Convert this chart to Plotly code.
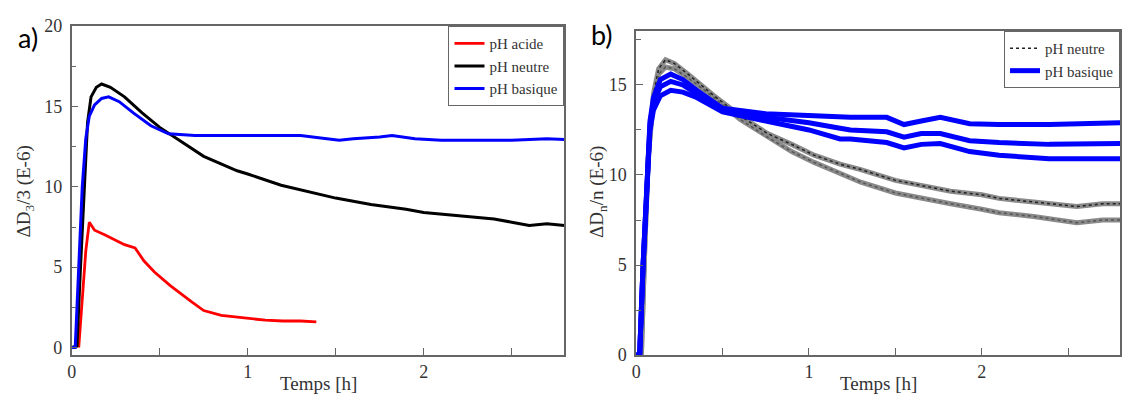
import plotly.graph_objects as go

# ---------------- Panel a) data ----------------
t_acide_a = [0.04, 0.06, 0.08, 0.10, 0.13, 0.19, 0.25, 0.30, 0.36, 0.41, 0.47, 0.56, 0.68, 0.75, 0.85, 1.00, 1.10, 1.20, 1.30, 1.39]
acide_a = [0.0, 3.0, 6.0, 7.8, 7.3, 7.0, 6.7, 6.4, 6.2, 5.4, 4.7, 3.85, 2.85, 2.3, 2.0, 1.8, 1.7, 1.65, 1.65, 1.6]

t_neutre_a = [0.0, 0.03, 0.05, 0.07, 0.09, 0.11, 0.14, 0.17, 0.22, 0.30, 0.40, 0.50, 0.64, 0.75, 0.94, 1.00, 1.19, 1.35, 1.50, 1.70, 1.90, 2.00, 2.20, 2.40, 2.50, 2.60, 2.70, 2.80]
neutre_a = [0.0, 0.1, 5.0, 10.0, 14.0, 15.6, 16.2, 16.4, 16.2, 15.6, 14.6, 13.7, 12.7, 11.9, 11.0, 10.8, 10.1, 9.7, 9.3, 8.9, 8.6, 8.4, 8.2, 8.0, 7.8, 7.6, 7.7, 7.6]

t_basique_a = [0.0, 0.02, 0.04, 0.06, 0.08, 0.10, 0.13, 0.17, 0.21, 0.27, 0.35, 0.45, 0.55, 0.70, 0.90, 1.10, 1.30, 1.45, 1.52, 1.60, 1.75, 1.82, 1.95, 2.10, 2.30, 2.50, 2.70, 2.80]
basique_a = [0.0, 0.0, 5.0, 10.0, 13.0, 14.4, 15.1, 15.5, 15.6, 15.3, 14.6, 13.8, 13.3, 13.2, 13.2, 13.2, 13.2, 13.0, 12.9, 13.0, 13.1, 13.2, 13.0, 12.9, 12.9, 12.9, 13.0, 12.95]

# ---------------- Panel b) data ----------------
t_neutre_b = [0.0, 0.03, 0.05, 0.07, 0.10, 0.13, 0.17, 0.22, 0.30, 0.45, 0.60, 0.76, 0.90, 1.03, 1.18, 1.30, 1.50, 1.70, 1.82, 2.00, 2.10, 2.30, 2.55, 2.70, 2.80]
neutre_b_1 = [0.0, 0.0, 6.0, 11.0, 14.5, 15.9, 16.4, 16.2, 15.6, 14.4, 13.3, 12.3, 11.7, 11.1, 10.6, 10.3, 9.7, 9.3, 9.1, 8.9, 8.7, 8.5, 8.25, 8.4, 8.4]
neutre_b_2 = [0.0, 0.0, 6.0, 11.0, 14.2, 15.6, 16.0, 15.9, 15.4, 14.3, 13.1, 12.1, 11.3, 10.7, 10.1, 9.6, 9.0, 8.6, 8.4, 8.1, 7.9, 7.7, 7.35, 7.5, 7.5]

t_basique_b = [0.0, 0.02, 0.04, 0.065, 0.08, 0.10, 0.14, 0.20, 0.27, 0.35, 0.50, 0.75, 1.00, 1.18, 1.24, 1.45, 1.55, 1.65, 1.76, 1.93, 2.10, 2.39, 2.60, 2.80]
basique_b_1 = [0.0, 0.0, 5.0, 10.0, 13.0, 14.3, 15.3, 15.6, 15.3, 14.7, 13.7, 13.4, 13.3, 13.2, 13.2, 13.2, 12.8, 13.0, 13.2, 12.85, 12.8, 12.8, 12.85, 12.9]
basique_b_2 = [0.0, 0.0, 5.0, 10.0, 12.8, 14.0, 14.9, 15.2, 15.0, 14.5, 13.6, 13.2, 12.9, 12.6, 12.5, 12.4, 12.1, 12.3, 12.3, 11.9, 11.8, 11.7, 11.7, 11.75]
basique_b_3 = [0.0, 0.0, 5.0, 10.0, 12.5, 13.6, 14.4, 14.7, 14.6, 14.3, 13.5, 13.0, 12.5, 12.0, 12.0, 11.8, 11.5, 11.7, 11.75, 11.3, 11.1, 10.9, 10.9, 10.9]

x_title = "Temps [h]"
y_title_a = "ΔD<sub>3</sub>/3 (E-6)"
y_title_b = "ΔD<sub>n</sub>/n (E-6)"

SERIF = "Liberation Serif"
SANS = "Lato"
AXC = "#666666"
TXT = "#333333"

fig = go.Figure()

# Panel a
fig.add_trace(go.Scatter(x=t_acide_a, y=acide_a, mode="lines", name="pH acide",
                         line=dict(color="#ff0000", width=2.8), xaxis="x", yaxis="y", legend="legend"))
fig.add_trace(go.Scatter(x=t_neutre_a, y=neutre_a, mode="lines", name="pH neutre",
                         line=dict(color="#000000", width=3), xaxis="x", yaxis="y", legend="legend"))
fig.add_trace(go.Scatter(x=t_basique_a, y=basique_a, mode="lines", name="pH basique",
                         line=dict(color="#0000ff", width=3), xaxis="x", yaxis="y", legend="legend"))

# Panel b: neutral halos + dotted lines
for yv in [neutre_b_1, neutre_b_2]:
    fig.add_trace(go.Scatter(x=t_neutre_b, y=yv, mode="lines", showlegend=False,
                             line=dict(color="#8a8a8a", width=5), xaxis="x2", yaxis="y2",
                             legend="legend2", hoverinfo="skip"))
for i, yv in enumerate([neutre_b_1, neutre_b_2]):
    fig.add_trace(go.Scatter(x=t_neutre_b, y=yv, mode="lines", name="pH neutre",
                             showlegend=(i == 0), legendgroup="neutre",
                             line=dict(color="#222222" if i == 0 else "#555555", width=1.5, dash="dot"),
                             xaxis="x2", yaxis="y2", legend="legend2"))
for i, yv in enumerate([basique_b_1, basique_b_2, basique_b_3]):
    fig.add_trace(go.Scatter(x=t_basique_b, y=yv, mode="lines", name="pH basique",
                             showlegend=(i == 0), legendgroup="basique",
                             line=dict(color="#0000ff", width=5), xaxis="x2", yaxis="y2",
                             legend="legend2"))

W, H = 1123, 405
def px(x):
    return x / W
def py(y):
    return 1 - y / H

common_x = dict(range=[0, 2.8], dtick=1, tick0=0, ticks="inside", ticklen=7, tickcolor=AXC,
                showline=True, linecolor=AXC, linewidth=1.5, mirror=True, showgrid=False,
                zeroline=False, tickfont=dict(family=SERIF, size=18, color=TXT),
                minor=dict(dtick=0.5, ticks="inside", ticklen=7, tickcolor=AXC))
common_y = dict(ticks="inside", ticklen=7, tickcolor=AXC, showline=True, linecolor=AXC,
                linewidth=1.5, mirror=True, showgrid=False, zeroline=False,
                tickfont=dict(family=SERIF, size=18, color=TXT), ticklabelstandoff=4,
                minor=dict(dtick=2.5, ticks="inside", ticklen=5, tickcolor=AXC))

title_font = dict(family=SERIF, size=19, color=TXT)

fig.update_layout(
    width=W, height=H,
    margin=dict(l=0, r=0, t=0, b=0),
    paper_bgcolor="white", plot_bgcolor="white",
    xaxis=dict(domain=[px(67), px(562)], anchor="y", **common_x),
    yaxis=dict(domain=[py(363), py(17)], anchor="x", range=[-0.47, 20], dtick=5, tick0=0, **common_y),
    xaxis2=dict(domain=[px(634), px(1120)], anchor="y2", **common_x),
    yaxis2=dict(domain=[py(363), py(22)], anchor="x2", range=[0, 18], dtick=5, tick0=0, **common_y),
    legend=dict(x=px(562), y=py(17), xanchor="right", yanchor="top",
                bordercolor=AXC, borderwidth=1, bgcolor="white",
                font=dict(family=SERIF, size=15, color=TXT), tracegroupgap=0, itemwidth=30),
    legend2=dict(x=px(1120), y=py(22), xanchor="right", yanchor="top",
                 bordercolor=AXC, borderwidth=1, bgcolor="white",
                 font=dict(family=SERIF, size=15, color=TXT), tracegroupgap=0, itemwidth=30),
    showlegend=True,
    annotations=[
        dict(text="a)", x=px(23), y=py(29), xref="paper", yref="paper", showarrow=False,
             xanchor="center", yanchor="middle", font=dict(family=SANS, size=27, color="#000")),
        dict(text="b)", x=px(600), y=py(26), xref="paper", yref="paper", showarrow=False,
             xanchor="center", yanchor="middle", font=dict(family=SANS, size=27, color="#000")),
        dict(text=y_title_a, x=px(20), y=py(191), xref="paper", yref="paper", showarrow=False,
             textangle=-90, xanchor="center", yanchor="middle", font=title_font),
        dict(text=y_title_b, x=px(595), y=py(191), xref="paper", yref="paper", showarrow=False,
             textangle=-90, xanchor="center", yanchor="middle", font=title_font),
        dict(text=x_title, x=px(314.5), y=py(393), xref="paper", yref="paper", showarrow=False,
             xanchor="center", yanchor="middle", font=title_font),
        dict(text=x_title, x=px(877), y=py(393), xref="paper", yref="paper", showarrow=False,
             xanchor="center", yanchor="middle", font=title_font),
    ],
)

fig.write_html("out.html")
